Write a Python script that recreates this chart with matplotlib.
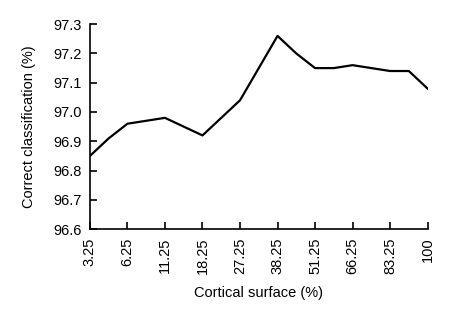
import numpy as np
import matplotlib.pyplot as plt

plt.rcParams['font.family'] = ['Liberation Sans', 'DejaVu Sans']

# tick categories (cortical surface %)
surface_labels = ["3.25", "6.25", "11.25", "18.25", "27.25",
                  "38.25", "51.25", "66.25", "83.25", "100"]
# line is sampled at half-steps between the categories
step_pos = np.arange(19) / 2.0
accuracy = [96.85, 96.91, 96.96, 96.97, 96.98, 96.95, 96.92, 96.98, 97.04, 97.15,
            97.26, 97.20, 97.15, 97.15, 97.16, 97.15, 97.14, 97.14, 97.08]

fig = plt.figure(figsize=(4.52, 3.10), dpi=100)
ax = fig.add_axes([0.199, 0.261, 0.747, 0.661])
ax.plot(step_pos, accuracy, color="black", linewidth=1.6)

ax.set_xlim(0, 9)
ax.set_ylim(96.6, 97.3)
ax.set_xticks(np.arange(len(surface_labels)))
ax.set_xticklabels(surface_labels, rotation=90)
ax.set_yticks(np.arange(96.6, 97.31, 0.1))
ax.set_yticklabels(["%.1f" % v for v in np.arange(96.6, 97.31, 0.1)])
ax.tick_params(direction="in", length=5, width=1.2, labelsize=10.5, pad=6)

for s in ["top", "right"]:
    ax.spines[s].set_visible(False)
for s in ["left", "bottom"]:
    ax.spines[s].set_linewidth(1.2)

ax.set_xlabel("Cortical surface (%)", fontsize=10.5, labelpad=9)
ax.set_ylabel("Correct classification (%)", fontsize=10.5, labelpad=12)

fig.savefig("out.png", dpi=100)
